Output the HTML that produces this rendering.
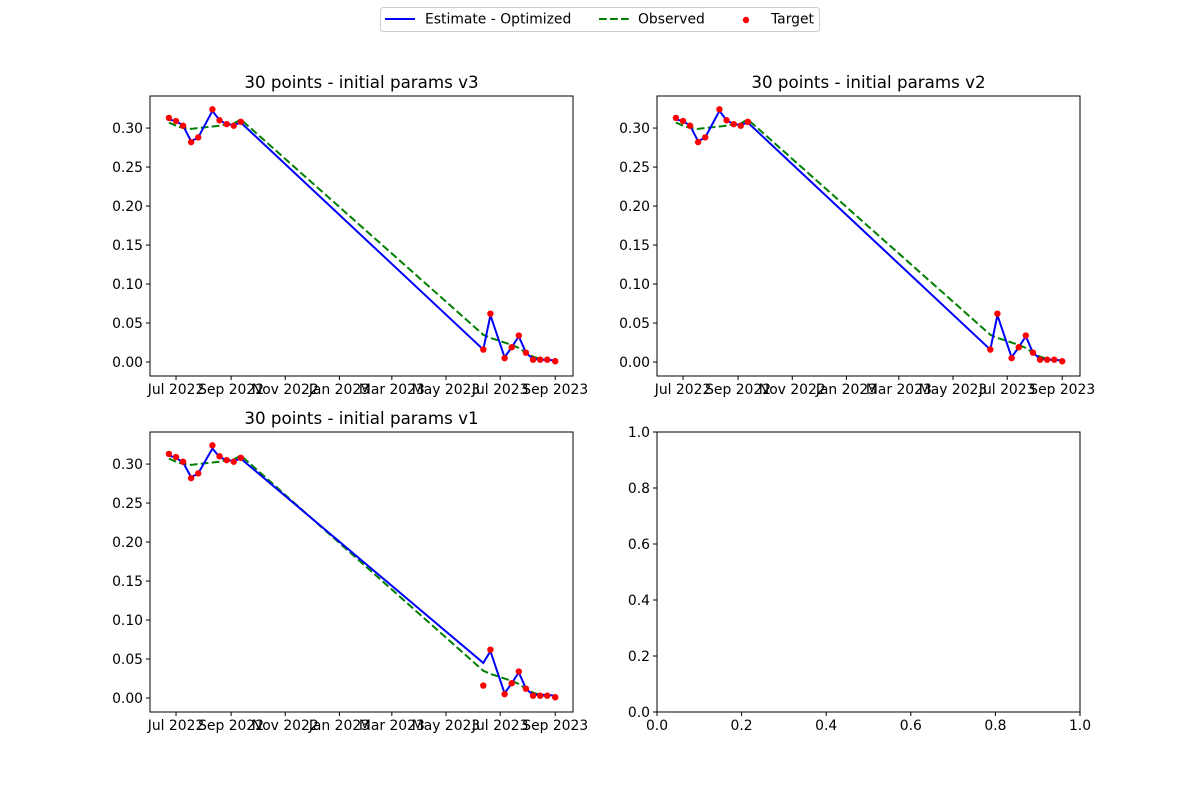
<!DOCTYPE html>
<html><head><meta charset="utf-8">
<style>
body{margin:0;background:#fff;}
svg{display:block;font-family:"DejaVu Sans","Liberation Sans",sans-serif;}
</style></head>
<body>
<svg id="fig" width="1200" height="800" viewBox="0 0 1200 800">
<g>
<rect x="380.5" y="7.5" width="439" height="24" rx="3" fill="#fff" stroke="#ccc"/>
<line x1="385" y1="19" x2="415" y2="19" stroke="#0000ff" stroke-width="2"/>
<text x="425" y="23.5" font-size="13.9">Estimate - Optimized</text>
<line x1="599" y1="19" x2="629" y2="19" stroke="#008000" stroke-width="2" stroke-dasharray="7.7,3.3"/>
<text x="638" y="23.5" font-size="13.9">Observed</text>
<circle cx="746" cy="20" r="3.2" fill="#ff0000"/>
<text x="771" y="23.5" font-size="13.9">Target</text>
</g>
</svg>
<script>
const dates=["2022-06-23","2022-07-01","2022-07-09","2022-07-18","2022-07-26","2022-08-11","2022-08-19","2022-08-27","2022-09-04","2022-09-12","2023-06-12","2023-06-20","2023-07-06","2023-07-14","2023-07-22","2023-07-30","2023-08-07","2023-08-15","2023-08-23","2023-09-01"];
const target=[0.313,0.309,0.303,0.282,0.288,0.324,0.310,0.305,0.303,0.308,0.016,0.062,0.005,0.019,0.034,0.012,0.003,0.003,0.003,0.001];
const observed=[0.307,0.303,0.300,0.299,0.300,0.302,0.303,0.305,0.306,0.311,0.035,0.031,0.025,0.022,0.018,0.012,0.007,0.004,0.002,0.000];
const estimateV3=[0.311,0.309,0.303,0.283,0.288,0.322,0.310,0.305,0.304,0.307,0.016,0.060,0.006,0.019,0.033,0.012,0.004,0.003,0.003,0.002];
const estimateV2=[0.311,0.309,0.303,0.283,0.288,0.322,0.310,0.305,0.304,0.307,0.016,0.060,0.006,0.019,0.033,0.012,0.004,0.003,0.003,0.002];
const estimateV1=[0.311,0.308,0.302,0.283,0.288,0.320,0.309,0.305,0.304,0.307,0.045,0.060,0.006,0.019,0.033,0.012,0.004,0.004,0.004,0.003];
const xTickLabels=["Jul 2022","Sep 2022","Nov 2022","Jan 2023","Mar 2023","May 2023","Jul 2023","Sep 2023"];
const xTickDates=["2022-07-01","2022-09-01","2022-11-01","2023-01-01","2023-03-01","2023-05-01","2023-07-01","2023-09-01"];
const yTicks=[0,0.05,0.10,0.15,0.20,0.25,0.30];
const emptyTicks=[0,0.2,0.4,0.6,0.8,1.0];

const NS="http://www.w3.org/2000/svg";
const svg=document.getElementById('fig');
function mk(tag,attrs,parent){const e=document.createElementNS(NS,tag);for(const k in attrs)e.setAttribute(k,attrs[k]);(parent||svg).appendChild(e);return e;}
const day=s=>(Date.parse(s)-Date.parse("2022-07-01"))/86400000;
const W=423,H=280,FS=13.9;
function drawChart(x0,y0,title,est,key){
  const g=mk('g',{});
  
  
  const xs=d=>x0+(day(d)+29.3)*(W/476.3);
  const ys=v=>y0+H-(v+0.0179)*(H/0.359);
  const t=mk('text',{x:x0+W/2,y:y0-8,'font-size':16.7,'text-anchor':'middle'},g);
  t.textContent=title;
  
  
  yTicks.forEach(v=>{const y=ys(v);
    mk('line',{x1:x0-4,x2:x0,y1:y,y2:y,stroke:'#000'},g);
    const l=mk('text',{x:x0-7,y:y+4.8,'font-size':FS,'text-anchor':'end'},g);l.textContent=v.toFixed(2);
    
    });
  xTickDates.forEach((d,i)=>{const x=xs(d);
    mk('line',{x1:x,x2:x,y1:y0+H,y2:y0+H+4,stroke:'#000'},g);
    const l=mk('text',{x:x,y:y0+H+18,'font-size':FS,'text-anchor':'middle'},g);l.textContent=xTickLabels[i];
    
    });
  const po=mk('polyline',{points:dates.map((d,i)=>xs(d)+','+ys(observed[i])).join(' '),fill:'none',stroke:'#008000','stroke-width':2,'stroke-dasharray':'7.7,3.3'},g);
  
  
  const pe=mk('polyline',{points:dates.map((d,i)=>xs(d)+','+ys(est[i])).join(' '),fill:'none',stroke:'#0000ff','stroke-width':2},g);
  
  
  dates.forEach((d,i)=>{const c=mk('circle',{cx:xs(d),cy:ys(target[i]),r:3.2,fill:'#ff0000'},g);
    
    });
  const fr=mk('rect',{x:x0,y:y0,width:W,height:H,fill:'none',stroke:'#000','stroke-width':1},g);
  
  
}
drawChart(150,96,'30 points - initial params v3',estimateV3,'v3');
drawChart(657,96,'30 points - initial params v2',estimateV2,'v2');
drawChart(150,432,'30 points - initial params v1',estimateV1,'v1');
(function(){const x0=657,y0=432;const g=mk('g',{});
  
  
  mk('rect',{x:x0,y:y0,width:W,height:H,fill:'none',stroke:'#000'},g);
  emptyTicks.forEach(v=>{const y=y0+H-v*H,x=x0+v*W;
    mk('line',{x1:x0-4,x2:x0,y1:y,y2:y,stroke:'#000'},g);
    const a=mk('text',{x:x0-7,y:y+4.8,'font-size':FS,'text-anchor':'end'},g);a.textContent=v.toFixed(1);
    
    
    mk('line',{x1:x,x2:x,y1:y0+H,y2:y0+H+4,stroke:'#000'},g);
    const b=mk('text',{x:x,y:y0+H+18,'font-size':FS,'text-anchor':'middle'},g);b.textContent=v.toFixed(1);
    
    });
})();
</script>
</body></html>
